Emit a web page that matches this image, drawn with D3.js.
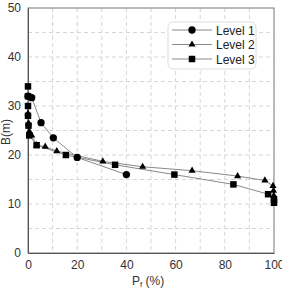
<!DOCTYPE html>
<html><head><meta charset="utf-8">
<script src="https://cdn.jsdelivr.net/npm/d3@7"></script>
<style>body{margin:0;background:#fff}svg{display:block}text{font-family:"Liberation Sans",Arial,sans-serif}</style>
</head><body>
<svg id="c" width="282" height="288"></svg>
<script>
const seriesNames = ["Level 1", "Level 2", "Level 3"];
const level1 = [[0,32],[1.5,31.7],[5.3,26.6],[10.3,23.5],[20,19.5],[40,16]];
const level2 = [[0,28.5],[0.2,26.5],[0.5,24.8],[1.5,24],[3.5,22],[7,21.7],[11.7,20.8],[30.4,18.7],[46.6,17.6],[66.7,16.8],[85.2,15.7],[96.3,14.8],[99.6,13.7],[99.8,12.7],[99.9,11.7],[100,10.7],[100,10]];
const level3 = [[0,34],[0,32],[0,30],[0,28],[0.2,26],[0.5,24],[3.5,22],[15.4,20],[35.4,18],[59.5,16],[83.5,14],[97.6,12],[100,11],[100,10.4]];
const xTicks = [0,20,40,60,80,100];
const yTicks = [0,10,20,30,40,50];

const svg = d3.select("#c");
const L=28, R=274, T=8, B=253;
const x = d3.scaleLinear().domain([0,100]).range([L,R]);
const y = d3.scaleLinear().domain([0,50]).range([B,T]);

// grid
const g = svg.append("g");
g.selectAll(".vg").data(d3.range(10,100,10)).enter().append("line")
  .attr("x1",d=>x(d)).attr("x2",d=>x(d)).attr("y1",T).attr("y2",B)
  .attr("stroke","#d6d6d6").attr("stroke-dasharray","4,3").attr("stroke-width",1);
g.selectAll(".hg").data(d3.range(5,50,5)).enter().append("line")
  .attr("y1",d=>y(d)).attr("y2",d=>y(d)).attr("x1",L).attr("x2",R)
  .attr("stroke","#d6d6d6").attr("stroke-dasharray","4,3").attr("stroke-width",1);

// frame
svg.append("rect").attr("x",L).attr("y",T).attr("width",R-L).attr("height",B-T)
  .attr("fill","none").attr("stroke","#777").attr("stroke-width",1);

// axes
const xa = svg.append("g").attr("transform",`translate(0,${B})`)
  .call(d3.axisBottom(x).tickValues(xTicks).tickSize(0).tickPadding(7));
xa.select(".domain").attr("stroke","#555");
xa.selectAll("text").attr("font-size",12).attr("fill","#333");
const ya = svg.append("g").attr("transform",`translate(${L},0)`)
  .call(d3.axisLeft(y).tickValues(yTicks).tickSize(0).tickPadding(7));
ya.select(".domain").attr("stroke","#555");
ya.selectAll("text").attr("font-size",12).attr("fill","#333");

// labels
const xl = svg.append("text").attr("x",148).attr("y",285).attr("text-anchor","middle")
  .attr("font-size",12).attr("fill","#333");
xl.append("tspan").text("P");
xl.append("tspan").text("f").attr("font-size",8).attr("dy",2);
xl.append("tspan").text(" (%)").attr("dy",-2);
svg.append("text").attr("transform","translate(10,132) rotate(-90)")
  .attr("text-anchor","middle").attr("font-size",12).attr("fill","#333").text("B(m)");

const line = d3.line().x(d=>x(d[0])).y(d=>y(d[1]));
const data = [level1, level2, level3];
const shapes = [d3.symbolCircle, d3.symbolTriangle, d3.symbolSquare];
const sizes = [42, 22, 42];
data.forEach((s,i)=>{
  svg.append("path").datum(s).attr("d",line).attr("fill","none")
    .attr("stroke","#888").attr("stroke-width",1);
});
data.forEach((s,i)=>{
  svg.selectAll(".m"+i).data(s).enter().append("path")
    .attr("transform",d=>`translate(${x(d[0])},${y(d[1])})`)
    .attr("d",d3.symbol().type(shapes[i]).size(sizes[i])).attr("fill","#000");
});

// legend
const lg = svg.append("g");
lg.append("rect").attr("x",168).attr("y",22).attr("width",88).attr("height",47).attr("rx",5)
  .attr("fill","#fff").attr("stroke","#ddd");
seriesNames.forEach((n,i)=>{
  const yy = 30 + i*14.5;
  lg.append("line").attr("x1",172).attr("x2",212).attr("y1",yy).attr("y2",yy).attr("stroke","#888");
  lg.append("path").attr("transform",`translate(192,${yy})`)
    .attr("d",d3.symbol().type(shapes[i]).size(sizes[i])).attr("fill","#000");
  lg.append("text").attr("x",216).attr("y",yy+4.5).attr("font-size",12).attr("fill","#222").text(n);
});
</script>
</body></html>
